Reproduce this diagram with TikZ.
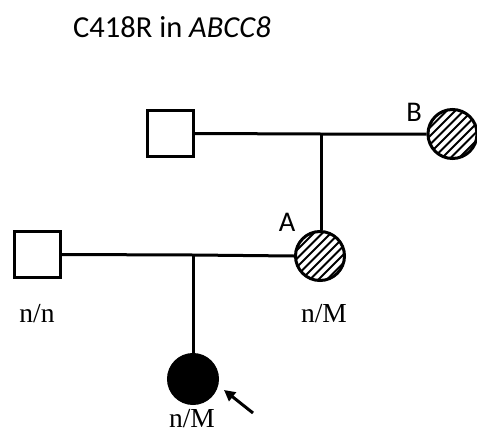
\documentclass[tikz,border=0pt]{standalone}
\usepackage{fontspec}
\setmainfont{Liberation Serif}
\newfontfamily\titlefont{Carlito}
\usetikzlibrary{arrows.meta,calc}
\tikzset{
  line/.style={line width=3pt},
  male/.style={draw, line width=3pt, minimum size=46pt, inner sep=0pt, fill=white},
  female/.style={draw, circle, line width=3pt, minimum size=49pt, inner sep=0pt},
  gen/.style={font=\fontsize{27.5}{27.5}\selectfont, inner sep=0pt, anchor=base},
  idlabel/.style={font=\titlefont\fontsize{28.5}{28.5}\selectfont, inner sep=0pt, anchor=base},
}
\newcommand{\hatchcircle}[2]{%
  \begin{scope}
    \clip (#1) circle (#2);
    \foreach \k in {-63,-54.5,...,63} {
      \draw[line width=1.8pt] ($(#1)+(\k-40,40)$) -- ($(#1)+(\k+40,-40)$);
    }
  \end{scope}}
\begin{document}
\begin{tikzpicture}[x=1pt,y=-1pt]
\useasboundingbox (0,0) rectangle (477,434);
\node[anchor=base west, inner sep=0pt, font=\titlefont\fontsize{30.5}{30.5}\selectfont] (title) at (73,37) {C418R in \textit{ABCC8}};

\node[male] (s1) at (170.5,133.5) {};
\coordinate (cB) at (452.5,134);
\coordinate (cA) at (320,256);
\hatchcircle{cB}{24.5pt}
\hatchcircle{cA}{24.5pt}
\node[female] (B) at (cB) {};
\node[female] (A) at (cA) {};
\node[male] (s2) at (37.5,254.5) {};
\node[female, fill=black] (child) at (193,379) {};

\coordinate (m1) at (321,134);
\coordinate (m2) at (193,255);
\draw[line] (s1.east) -- (m1) -- (B.west);
\draw[line] (m1) -- (m1 |- A.north);
\draw[line] (s2.east) -- (m2) -- (A.west);
\draw[line] (m2) -- (child.north);

\node[idlabel] (labB) at (414,121) {B};
\node[idlabel] (labA) at (287,231) {A};

\node[gen] (g1) at (37,322) {n/n};
\node[gen] (g2) at (324,322) {n/M};
\node[gen] (g3) at (192,427) {n/M};

\coordinate (arrtail) at (253,413);
\draw[line width=3pt, -{Triangle[length=11pt,width=11pt]}] (arrtail) -- (224,390);
\end{tikzpicture}
\end{document}
